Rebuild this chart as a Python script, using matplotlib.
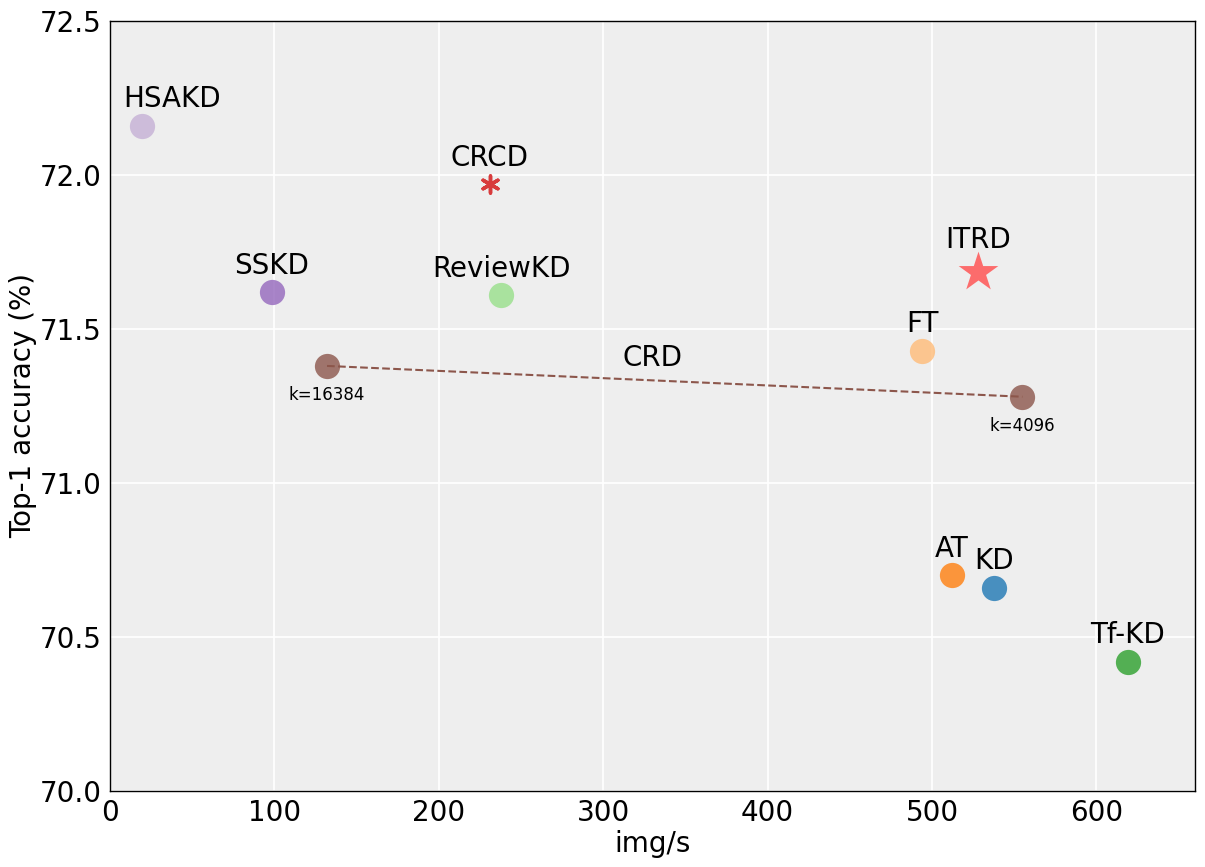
import matplotlib
matplotlib.use("Agg")
import matplotlib.pyplot as plt

names = ["HSAKD", "CRCD", "SSKD", "ReviewKD", "ITRD", "FT", "AT", "KD", "Tf-KD"]
speed = [19.5, 231, 98.5, 238, 528, 494, 512, 538, 619]
acc = [72.16, 71.97, 71.62, 71.61, 71.685, 71.43, 70.70, 70.66, 70.42]
label_x = [38, 231, 98.5, 238, 528, 494, 512, 538, 619]
colors = ["#c5b0d5", "#d62728", "#9467bd", "#98df8a", "#ff5555", "#ffbb78", "#ff7f0e", "#1f77b4", "#2ca02c"]
markers = ["o", "*", "o", "o", "*", "o", "o", "o", "o"]
sizes = [330, 150, 330, 330, 900, 330, 330, 330, 330]
alphas = [0.8, 0.9, 0.8, 0.8, 0.85, 0.8, 0.8, 0.8, 0.8]

crd_speed = [132, 555]
crd_acc = [71.38, 71.28]
crd_k = ["k=16384", "k=4096"]

fig = plt.figure(figsize=(12.05, 8.67), dpi=100)
ax = fig.add_axes([0.0913, 0.0877, 0.9004, 0.8881])
ax.set_facecolor("#eeeeee")
ax.grid(True, color="white", linewidth=1.2)
ax.set_axisbelow(True)

for n, x, lx, y, c, m, s, a in zip(names, speed, label_x, acc, colors, markers, sizes, alphas):
    if n == "CRCD":
        ax.scatter(x, y, s=s, c=c, marker=(6, 2, 0), alpha=a, linewidths=2.5, edgecolors=c, zorder=3)
    else:
        ax.scatter(x, y, s=s, c=c, marker=m, alpha=a, linewidths=0, zorder=3)
    dy = 0.04 if n != "ITRD" else 0.058
    ax.text(lx, y + dy, n, fontsize=20, ha="center", va="bottom")

ax.plot(crd_speed, crd_acc, "--", color="#8c564b", linewidth=1.5, zorder=2)
ax.scatter(crd_speed, crd_acc, s=330, c="#8c564b", alpha=0.8, linewidths=0, zorder=3)
for x, y, k in zip(crd_speed, crd_acc, crd_k):
    ax.text(x, y - 0.065, k, fontsize=12, ha="center", va="top")
ax.text(330, 71.36, "CRD", fontsize=20, ha="center", va="bottom")

ax.set_xlim(0, 660)
ax.set_ylim(70.0, 72.5)
ax.set_xticks([0, 100, 200, 300, 400, 500, 600])
ax.set_yticks([70.0, 70.5, 71.0, 71.5, 72.0, 72.5])
ax.set_yticklabels(["70.0", "70.5", "71.0", "71.5", "72.0", "72.5"])
ax.tick_params(length=0, labelsize=20, pad=6)
ax.set_xlabel("img/s", fontsize=20, labelpad=2)
ax.set_ylabel("Top-1 accuracy (%)", fontsize=20, labelpad=2)
for sp in ax.spines.values():
    sp.set_color("black")
    sp.set_linewidth(1.0)

fig.savefig("out.png", dpi=100)
